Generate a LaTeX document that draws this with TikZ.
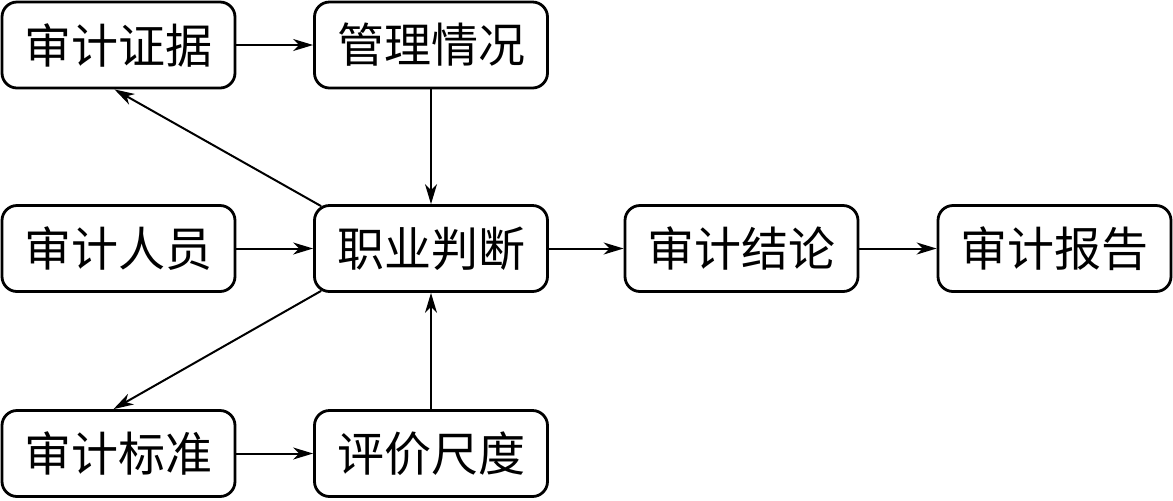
\documentclass[tikz,border=0pt]{standalone}
\usepackage{fontspec}
\newfontfamily\cjk{Noto Sans CJK SC}
\usetikzlibrary{arrows.meta,calc}
\begin{document}
\begin{tikzpicture}[x=0.5pt,y=-0.5pt,
  box/.style={draw,line width=1.4pt,rounded corners=7.5pt,minimum width=116.5pt,minimum height=43pt,inner sep=0pt,font=\cjk\fontsize{23.5}{23.5}\selectfont},
  arr/.style={line width=1pt,-{Stealth[length=10pt,width=6pt,inset=3pt]}}]
\useasboundingbox (0,0) rectangle (1173,500);
\node[box] (zj) at (118.5,45) {审计证据};
\node[box] (gl) at (431,45) {管理情况};
\node[box] (ry) at (118.5,248.5) {审计人员};
\node[box] (zy) at (431,248.5) {职业判断};
\node[box] (jl) at (741.5,248.5) {审计结论};
\node[box] (bg) at (1054.5,248.5) {审计报告};
\node[box] (bz) at (118.5,453.5) {审计标准};
\node[box] (pj) at (431,453.5) {评价尺度};
\draw[arr] (zj) -- (gl);
\draw[arr] (gl) -- (zy);
\draw[arr] (ry) -- (zy);
\draw[arr] (zy) -- (jl);
\draw[arr] (jl) -- (bg);
\draw[arr] (bz) -- (pj);
\draw[arr] (pj) -- (zy);
\draw[arr] ($(zy.north west)+(8,2)$) -- ($(zj.south)+(-4,0)$);
\draw[arr] ($(zy.south west)+(8,-2)$) -- ($(bz.north)+(-5,0)$);
\end{tikzpicture}
\end{document}
